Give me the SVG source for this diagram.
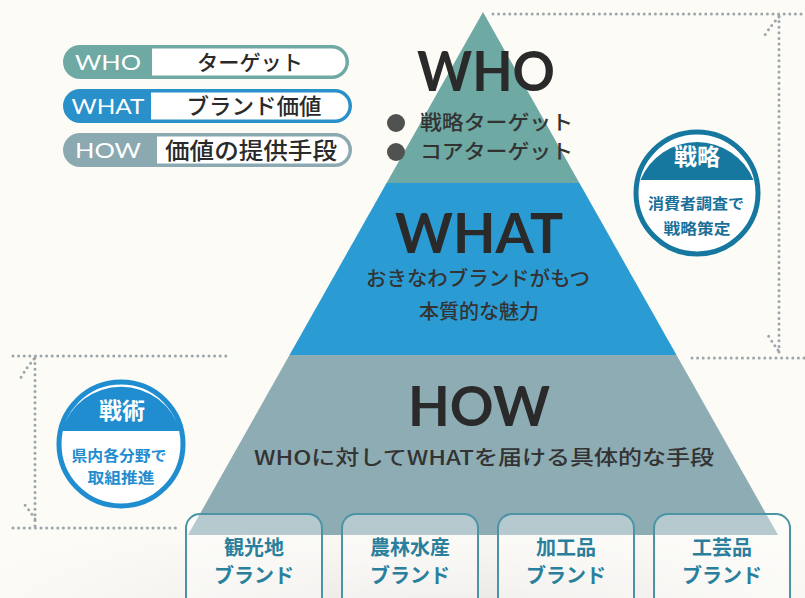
<svg xmlns="http://www.w3.org/2000/svg" width="805" height="598" viewBox="0 0 805 598">
<defs>
<style>
.jp{font-family:"Noto Sans CJK JP","Noto Sans",sans-serif;}
.dot{fill:none;stroke:#9ba6ab;stroke-width:3;stroke-linecap:round;stroke-dasharray:0 5.6;}
.big{font-family:Lato,"Noto Sans",sans-serif;font-size:55px;font-weight:700;fill:#2a2a2a;text-anchor:middle;}
.sub{font-family:"Noto Sans CJK JP",sans-serif;font-size:20px;fill:#333;text-anchor:middle;font-weight:500;}
.box{fill:#ffffff;fill-opacity:0.35;stroke:#4a94a6;stroke-width:2;}
.btxt{font-family:"Noto Sans CJK JP",sans-serif;font-size:20px;font-weight:700;fill:#2a7f9d;text-anchor:middle;}
.lbl{font-family:Lato,"Noto Sans",sans-serif;font-size:21px;fill:#ffffff;text-anchor:middle;}
.ltxt{font-family:"Noto Sans CJK JP",sans-serif;fill:#2a2a2a;text-anchor:middle;font-weight:500;}
</style>
<radialGradient id="floor" cx="0.55" cy="1.1" r="0.75">
<stop offset="0" stop-color="#e6e3e0"/>
<stop offset="1" stop-color="#fcfbf6" stop-opacity="0"/>
</radialGradient>
</defs>
<rect width="805" height="598" fill="#fcfbf6"/>
<rect x="0" y="420" width="805" height="178" fill="url(#floor)"/>

<g id="connectors">
<path class="dot" d="M493 14 H805"/>
<path class="dot" d="M779 16 V352"/>
<path class="dot" d="M779 17 Q772 24 765 35"/>
<path class="dot" d="M778 350 Q772 342 766 332"/>
<path class="dot" d="M692 358 H805"/>
<path class="dot" d="M13 356 H231"/>
<path class="dot" d="M35 358 V526"/>
<path class="dot" d="M34 359 Q27 367 20 379"/>
<path class="dot" d="M35 519 Q30 511 24 504"/>
<path class="dot" d="M13 528 H178"/>
</g>

<g id="pyramid-who">
<polygon points="483,12 579.4,183 386.6,183" fill="#6ea9a4"/>
<text class="big" x="486" y="91" textLength="138" lengthAdjust="spacingAndGlyphs">WHO</text>
<circle cx="396" cy="123" r="9" fill="#505252"/>
<circle cx="396" cy="152" r="9" fill="#505252"/>
<text class="jp" x="420" y="130" font-size="20" fill="#333" font-weight="500" textLength="153" lengthAdjust="spacingAndGlyphs">戦略ターゲット</text>
<text class="jp" x="420" y="159" font-size="20" fill="#333" font-weight="500" textLength="153" lengthAdjust="spacingAndGlyphs">コアターゲット</text>
</g>

<g id="pyramid-what">
<polygon points="386.6,183 579.4,183 676.5,355 289.5,355" fill="#2b9bd3"/>
<text class="big" x="479" y="253" textLength="168" lengthAdjust="spacingAndGlyphs">WHAT</text>
<text class="sub" x="478" y="286" textLength="224" lengthAdjust="spacingAndGlyphs">おきなわブランドがもつ</text>
<text class="sub" x="479" y="319">本質的な魅力</text>
</g>

<g id="pyramid-how">
<polygon points="289.5,355 676.5,355 778,535 188,535" fill="#8eacb4"/>
<text class="big" x="479" y="426" textLength="142" lengthAdjust="spacingAndGlyphs">HOW</text>
<text class="sub" x="484" y="465" font-size="21" textLength="460" lengthAdjust="spacingAndGlyphs">WHOに対してWHATを届ける具体的な手段</text>
</g>

<g id="legend-who">
<rect x="63" y="45" width="286" height="34" rx="17" fill="#6ea9a4"/>
<path d="M152 48.5 H332 A13.5 13.5 0 0 1 332 75.5 H152 Z" fill="#ffffff"/>
<text class="lbl" x="108" y="70" textLength="66" lengthAdjust="spacingAndGlyphs">WHO</text>
<text class="ltxt" x="250" y="70" font-size="21" textLength="106" lengthAdjust="spacingAndGlyphs">ターゲット</text>
</g>
<g id="legend-what">
<rect x="63" y="89" width="289" height="34" rx="17" fill="#2a90c9"/>
<path d="M151 92.5 H335 A13.5 13.5 0 0 1 335 119.5 H151 Z" fill="#ffffff"/>
<text class="lbl" x="108" y="114" textLength="73" lengthAdjust="spacingAndGlyphs">WHAT</text>
<text class="ltxt" x="254" y="114" font-size="22" textLength="135" lengthAdjust="spacingAndGlyphs">ブランド価値</text>
</g>
<g id="legend-how">
<rect x="63" y="133" width="289" height="34" rx="17" fill="#8ba9b1"/>
<path d="M157 136.5 H335 A13.5 13.5 0 0 1 335 163.5 H157 Z" fill="#ffffff"/>
<text class="lbl" x="108" y="158" textLength="66" lengthAdjust="spacingAndGlyphs">HOW</text>
<text class="ltxt" x="251" y="159" font-size="23" textLength="172" lengthAdjust="spacingAndGlyphs">価値の提供手段</text>
</g>

<g id="strategy">
<circle cx="697" cy="193" r="61" fill="#ffffff" stroke="#17789f" stroke-width="5"/>
<path d="M640.5 180 A61 61 0 0 1 753.5 180 Z" fill="#17789f"/>
<text class="jp" x="697" y="165" font-size="23" font-weight="700" fill="#ffffff" text-anchor="middle">戦略</text>
<text class="jp" x="696" y="209" font-size="15" font-weight="700" fill="#1a7099" text-anchor="middle" textLength="96" lengthAdjust="spacingAndGlyphs">消費者調査で</text>
<text class="jp" x="697" y="234" font-size="15" font-weight="700" fill="#1a7099" text-anchor="middle" textLength="67" lengthAdjust="spacingAndGlyphs">戦略策定</text>
</g>

<g id="tactics">
<circle cx="121" cy="444" r="62" fill="#ffffff" stroke="#1f8dcf" stroke-width="5"/>
<path d="M61.6 431 A62 62 0 0 1 180.4 431 Z" fill="#1f8dcf"/>
<text class="jp" x="122" y="419" font-size="23" font-weight="700" fill="#ffffff" text-anchor="middle">戦術</text>
<text class="jp" x="119" y="461" font-size="15" font-weight="700" fill="#1f8dcf" text-anchor="middle" textLength="95" lengthAdjust="spacingAndGlyphs">県内各分野で</text>
<text class="jp" x="121" y="483" font-size="15" font-weight="700" fill="#1f8dcf" text-anchor="middle" textLength="67" lengthAdjust="spacingAndGlyphs">取組推進</text>
</g>

<g id="brand-1">
<rect class="box" x="186" y="514" width="136" height="110" rx="14"/>
<text class="btxt" x="254" y="555">観光地</text>
<text class="btxt" x="254" y="583">ブランド</text>
</g>
<g id="brand-2">
<rect class="box" x="342" y="514" width="136" height="110" rx="14"/>
<text class="btxt" x="410" y="555">農林水産</text>
<text class="btxt" x="410" y="583">ブランド</text>
</g>
<g id="brand-3">
<rect class="box" x="498" y="514" width="136" height="110" rx="14"/>
<text class="btxt" x="566" y="555">加工品</text>
<text class="btxt" x="566" y="583">ブランド</text>
</g>
<g id="brand-4">
<rect class="box" x="654" y="514" width="136" height="110" rx="14"/>
<text class="btxt" x="722" y="555">工芸品</text>
<text class="btxt" x="722" y="583">ブランド</text>
</g>
</svg>
